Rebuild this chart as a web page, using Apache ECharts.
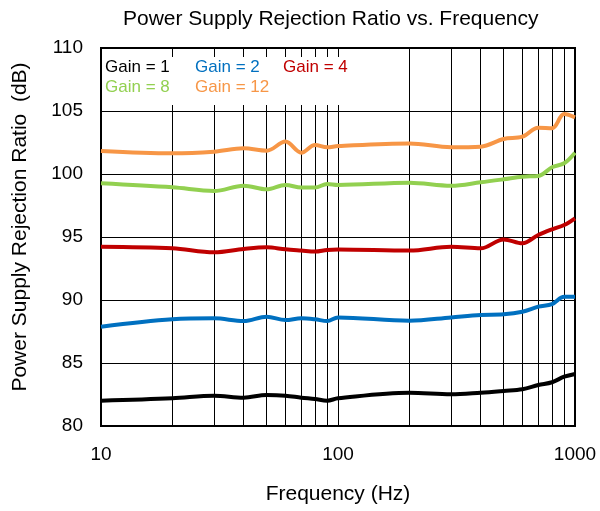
<!DOCTYPE html>
<html>
<head>
<meta charset="utf-8">
<script src="https://cdn.jsdelivr.net/npm/echarts@6/dist/echarts.min.js"></script>
<style>html,body{margin:0;padding:0;background:#fff}#c{width:600px;height:511px}</style>
</head>
<body>
<div id="c"></div>
<script>
const freq = [10,20,30,40,50,60,70,80,90,100,200,300,400,500,600,700,800,900,1000];
const gain1 = [82.01,82.20,82.41,82.25,82.46,82.41,82.25,82.14,82.01,82.20,82.64,82.51,82.64,82.78,82.91,83.25,83.47,83.91,84.13];
const gain2 = [87.88,88.47,88.55,88.33,88.68,88.41,88.55,88.47,88.33,88.62,88.36,88.62,88.81,88.86,89.07,89.47,89.68,90.26,90.26];
const gain4 = [94.23,94.10,93.78,94.05,94.18,94.02,93.92,93.84,93.97,94.00,93.92,94.23,94.10,94.81,94.50,95.16,95.61,95.95,96.48];
const gain8 = [99.26,98.94,98.65,99.07,98.78,99.13,98.92,98.92,99.21,99.13,99.31,99.07,99.34,99.58,99.79,99.84,100.53,100.85,101.69];
const gain12 = [101.83,101.64,101.77,102.04,101.85,102.57,101.69,102.30,102.12,102.22,102.43,102.12,102.17,102.78,102.96,103.68,103.63,104.76,104.50];
const seriesNames = ['Gain = 1','Gain = 2','Gain = 4','Gain = 8','Gain = 12'];
const seriesColors = ['#000000','#0070C0','#C00000','#92D050','#F79646'];
const gridFreqs = [20,30,40,50,60,70,80,90,100,200,300,400,500,600,700,800,900];
const xTicks = [10,100,1000];
const yTicks = [80,85,90,95,100,105,110];

const FONT = "'Liberation Sans', Arial, sans-serif";
const allValues = [gain1,gain2,gain4,gain8,gain12];
const legendPos = [[100,59],[190,59],[278,59],[100,79],[190,79]];

const series = allValues.map((vals,i) => {
  const s = {
    name: seriesNames[i],
    type: 'line',
    data: freq.map((f,j) => [f, vals[j]]),
    smooth: 0.35,
    showSymbol: false,
    symbol: 'none',
    lineStyle: {color: seriesColors[i], width: 4},
    itemStyle: {color: seriesColors[i]},
    z: 3
  };
  if (i === 0) {
    s.markLine = {
      silent: true,
      symbol: ['none','none'],
      label: {show: false},
      lineStyle: {color: '#000', width: 1, type: 'solid'},
      emphasis: {disabled: true},
      animation: false,
      z: 1,
      data: gridFreqs.map(f => ({xAxis: f}))
    };
  }
  return s;
});

const legends = seriesNames.map((n,i) => ({
  data: [{name: n, textStyle: {color: seriesColors[i]}}],
  left: legendPos[i][0],
  top: legendPos[i][1],
  padding: 0,
  itemWidth: 0,
  itemHeight: 0,
  icon: 'rect',
  selectedMode: false,
  textStyle: {fontFamily: FONT, fontSize: 17, color: seriesColors[i]},
  z: 5
}));

const chart = echarts.init(document.getElementById('c'), null, {renderer: 'canvas'});
chart.setOption({
  animation: false,
  backgroundColor: '#fff',
  title: {
    text: 'Power Supply Rejection Ratio vs. Frequency',
    left: 118, top: 4,
    textStyle: {fontFamily: FONT, fontSize: 21, fontWeight: 'normal', color: '#000'}
  },
  legend: legends,
  graphic: [{
    type: 'rect', z: 4, silent: true,
    shape: {x: 102, y: 57, width: 238, height: 48},
    style: {fill: '#fff'}
  }],
  grid: {left: 101, right: 25, top: 48, bottom: 85, show: true, borderColor: '#000', borderWidth: 2, backgroundColor: 'transparent'},
  xAxis: {
    type: 'log', logBase: 10, min: xTicks[0], max: xTicks[xTicks.length-1],
    name: 'Frequency (Hz)', nameLocation: 'middle', nameGap: 58,
    nameTextStyle: {fontFamily: FONT, fontSize: 21, color: '#000'},
    axisLine: {show: true, lineStyle: {color: '#000', width: 2}},
    axisTick: {show: false},
    axisLabel: {fontFamily: FONT, fontSize: 19, color: '#000', margin: 19,
      formatter: v => xTicks.includes(Math.round(v)) ? String(Math.round(v)) : ''},
    splitLine: {show: false},
    minorTick: {show: false}, minorSplitLine: {show: false}
  },
  yAxis: {
    type: 'value', min: yTicks[0], max: yTicks[yTicks.length-1], interval: 5,
    name: 'Power Supply Rejection Ratio  (dB)', nameLocation: 'middle', nameGap: 70,
    nameTextStyle: {fontFamily: FONT, fontSize: 21, color: '#000', padding: [0,0,0,20]},
    axisLine: {show: true, lineStyle: {color: '#000', width: 2}},
    axisTick: {show: false},
    axisLabel: {fontFamily: FONT, fontSize: 19, color: '#000', margin: 18},
    splitLine: {show: true, lineStyle: {color: '#000', width: 1}}
  },
  series: series
});
</script>
</body>
</html>
